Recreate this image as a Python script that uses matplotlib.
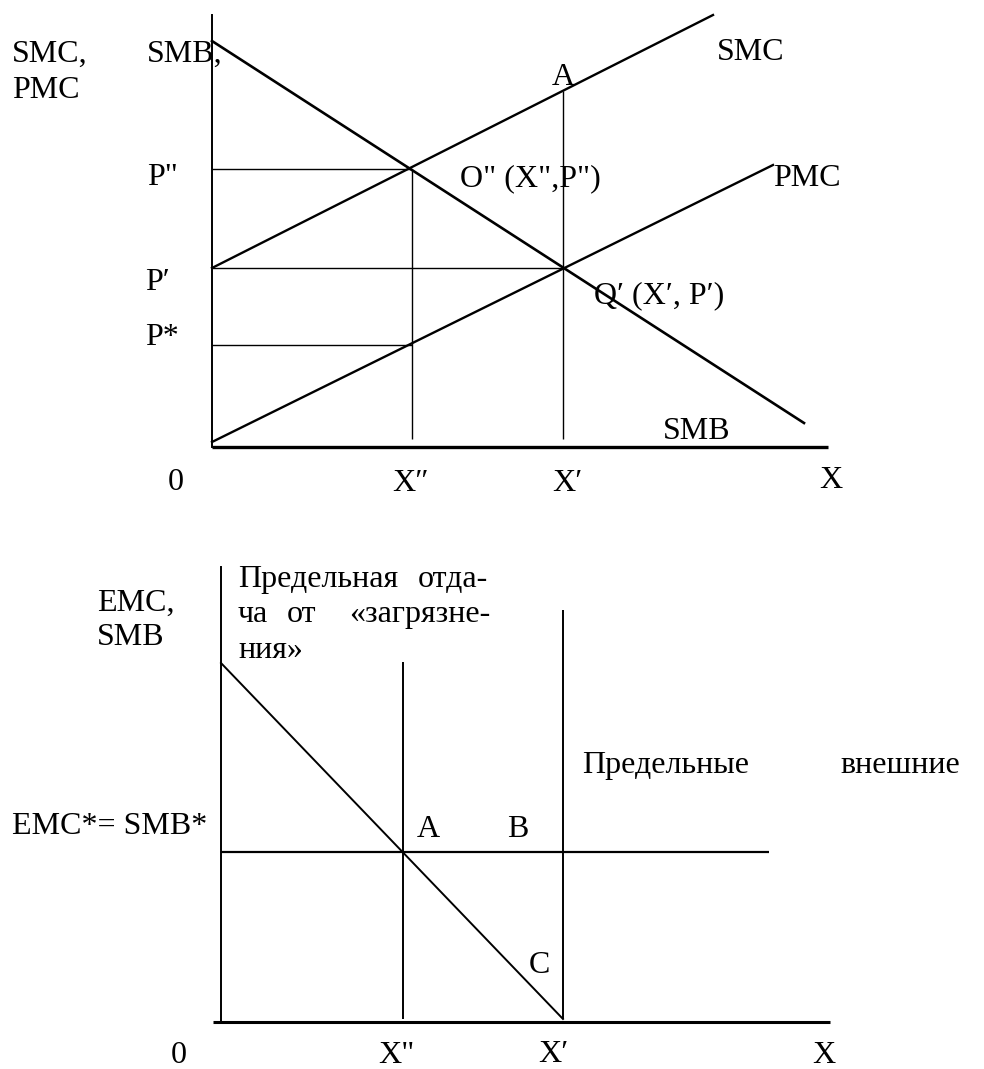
import matplotlib
matplotlib.use("Agg")
from matplotlib import pyplot as plt

plt.rcParams['font.family'] = ['Liberation Serif', 'DejaVu Serif']
FS = 23

# ---- top diagram: SMB / SMC / PMC ----
smb_x = [0, 59.2]
smb_y = [40.1, 1.9]
smc_x = [0, 50.1]
smc_y = [17.4, 42.7]
pmc_x = [0, 56.1]
pmc_y = [0, 27.7]
x_2 = 20.0      # X''
x_1 = 35.1      # X'
p_2 = 27.3      # P''
p_1 = 17.4      # P'
p_star = 9.7    # P*
a_top = 35.1    # point A on SMC over X'
top_yaxis_max = 42.7
top_xaxis_max = 61.6

top_labels = ["SMC,", "PMC", "SMB,", "A", "SMC", 'P"', 'O" (X",P")', "PMC",
              "P\u2032", "Q\u2032 (X\u2032, P\u2032)", "P*", "SMB", "0", "X"]
top_lab_x = [-20.0, -20.0, -6.5, 34.0, 50.5, -6.5, 24.8, 56.1,
             -6.7, 38.2, -6.7, 45.1, -4.4, 60.7]
top_lab_y = [38.0, 34.4, 38.0, 35.7, 38.2, 25.7, 25.6, 25.6,
             15.2, 13.9, 9.7, 0.3, -4.8, -4.6]
top_ticks = ["X\u2033", "X\u2032"]
top_tick_x = [19.9, 35.5]
top_tick_y = [-4.9, -4.9]

# ---- bottom diagram: EMC / SMB ----
b_smb_x = [0, 34.2]
b_smb_y = [35.6, 0]
b_x2 = 18.2
b_x1 = 34.2
emc_star = 16.7
emc_end = 54.8
b_x2_top = 35.7
b_x1_top = 40.9
bot_yaxis_max = 45.2
bot_xaxis = [-0.8, 60.9]

bot_labels = ["EMC,", "SMB", "ния\u00bb", "Предельные", "EMC*= SMB*",
              "A", "B", "C", "0", "X", "ча", "от"]
bot_lab_x = [-12.4, -12.4, 1.7, 36.1, -20.9, 19.6, 28.6, 30.8, -5.0, 59.1, 1.7, 6.6]
bot_lab_y = [40.8, 37.4, 36.1, 24.6, 18.5, 18.2, 18.2, 4.6, -4.4, -4.4, 39.7, 39.7]
# words set flush right (justified lines)
bot_right = ["отда-", "\u00abзагрязне-", "внешние"]
bot_right_x = [26.7, 26.9, 73.9]
bot_right_y = [43.2, 39.7, 24.6]
bot_left2 = ["Предельная"]
bot_left2_x = [1.7]
bot_left2_y = [43.2]
bot_ticks = ['X"', "X\u2032"]
bot_tick_x = [17.5, 33.2]
bot_tick_y = [-4.4, -4.3]

fig = plt.figure(figsize=(9.84, 10.69), dpi=100)

# top axes
ax = fig.add_axes([0, (1069 - 510) / 1069, 1, 510 / 1069])
ax.set_xlim(-21.2, 77.2)
ax.set_ylim(-6.8, 44.2)
ax.axis('off')

ax.plot([0, 0], [-0.5, top_yaxis_max], color='black', lw=1.4)
ax.plot([0, top_xaxis_max], [-0.5, -0.5], color='black', lw=2.4, solid_capstyle='butt')
ax.plot(smb_x, smb_y, color='black', lw=1.9)
ax.plot(smc_x, smc_y, color='black', lw=1.7)
ax.plot(pmc_x, pmc_y, color='black', lw=1.7)
ax.hlines([p_2, p_1, p_star], 0, [x_2, x_1, x_2], color='black', lw=1.0)
ax.vlines([x_2, x_1], 0.3, [p_2, a_top], color='black', lw=1.0)

for t, x, y in zip(top_labels, top_lab_x, top_lab_y):
    ax.text(x, y, t, fontsize=FS, ha='left', va='baseline', clip_on=False)
for t, x, y in zip(top_ticks, top_tick_x, top_tick_y):
    ax.text(x, y, t, fontsize=FS, ha='center', va='baseline', clip_on=False)

# bottom axes
bx = fig.add_axes([0, 0, 1, 529 / 1069])
bx.set_xlim(-22.1, 76.3)
bx.set_ylim(-5.0, 47.9)
bx.axis('off')

bx.plot([0, 0], [-0.3, bot_yaxis_max], color='black', lw=1.4)
bx.plot(bot_xaxis, [-0.3, -0.3], color='black', lw=2.2, solid_capstyle='butt')
bx.plot(b_smb_x, b_smb_y, color='black', lw=1.4)
bx.hlines(emc_star, 0, emc_end, color='black', lw=1.6)
bx.vlines([b_x2, b_x1], 0, [b_x2_top, b_x1_top], color='black', lw=1.4)

for t, x, y in zip(bot_labels + bot_left2, bot_lab_x + bot_left2_x, bot_lab_y + bot_left2_y):
    bx.text(x, y, t, fontsize=FS, ha='left', va='baseline', clip_on=False)
for t, x, y in zip(bot_right, bot_right_x, bot_right_y):
    bx.text(x, y, t, fontsize=FS, ha='right', va='baseline', clip_on=False)
for t, x, y in zip(bot_ticks, bot_tick_x, bot_tick_y):
    bx.text(x, y, t, fontsize=FS, ha='center', va='baseline', clip_on=False)

fig.savefig("out.png", dpi=100)
